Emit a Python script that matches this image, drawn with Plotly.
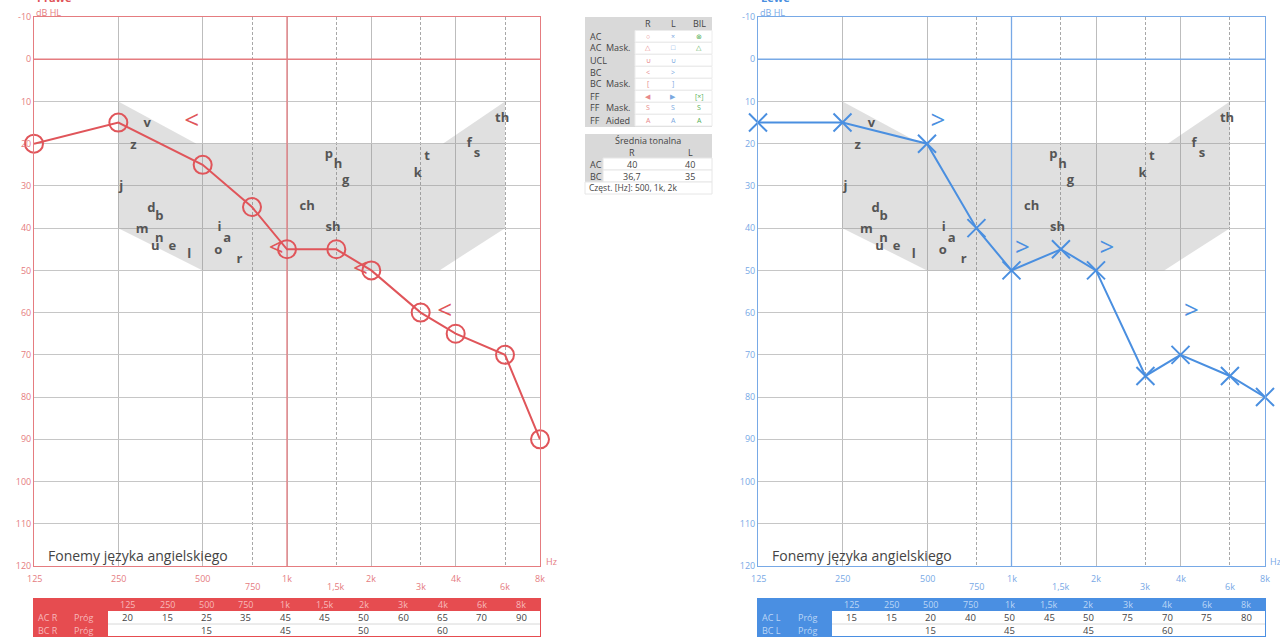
import numpy as np
import plotly.graph_objects as go

W, H = 1280, 640

# ---------------- data ----------------
freqs = [125, 250, 500, 750, 1000, 1500, 2000, 3000, 4000, 6000, 8000]
freq_labels = ["125", "250", "500", "750", "1k", "1,5k", "2k", "3k", "4k", "6k", "8k"]
freq_staggered = [False, False, False, True, False, True, False, True, False, True, False]

ac_right = [20, 15, 25, 35, 45, 45, 50, 60, 65, 70, 90]
ac_left = [15, 15, 20, 40, 50, 45, 50, 75, 70, 75, 80]
bc_freqs = [500, 1000, 2000, 4000]
bc_right = [15, 45, 50, 60]
bc_left = [15, 45, 45, 60]

db_ticks = list(range(-10, 121, 10))

banana_freq = [250, 475, 3600, 6000, 6000, 3500, 500, 250]
banana_db = [10, 20, 20, 10, 40, 50, 50, 40]

phonemes = ["v", "z", "j", "d", "b", "m", "n", "u", "e", "l", "i", "a", "o", "r",
            "ch", "sh", "p", "h", "g", "t", "k", "f", "s", "th"]
phon_freq = [317, 283, 256, 328, 350, 304, 350, 339, 390, 448, 574, 612, 569, 676,
             1180, 1460, 1410, 1520, 1620, 3160, 2930, 4470, 4770, 5860]
phon_db = [15.2, 20.4, 30.3, 35.3, 37.2, 40.3, 42.5, 44.3, 44.3, 46.2, 40.0, 42.4, 45.3, 47.4,
           35.0, 40.0, 22.7, 24.9, 28.7, 23.2, 27.0, 20.0, 22.3, 14.2]

legend_head = ["R", "L", "BIL"]
legend_col_a = ["AC", "AC", "UCL", "BC", "BC", "FF", "FF", "FF"]
legend_col_b = ["", "Mask.", "", "", "Mask.", "", "Mask.", "Aided"]
legend_r = ["○", "△", "∪", "<", "[", "◀", "S", "A"]
legend_l = ["×", "□", "∪", ">", "]", "▶", "S", "A"]
legend_bil = ["⊗", "△", "", "", "", "[×]", "S", "A"]

avg_title = "Średnia tonalna"
avg_labels = ["AC", "BC"]
avg_r = ["40", "36,7"]
avg_l = ["40", "35"]
avg_note = "Częst. [Hz]: 500, 1k, 2k"

# ---------------- styles ----------------
RED = "#e0555a"
RED_L = "#e57c80"
RED_TBL = "#e64c50"
BLUE = "#4a8fe0"
BLUE_L = "#78a9e6"
BLUE_TBL = "#4a8fe2"
GRAY_CELL = "#d9d9d9"
TXT = "#444444"
FONT = "Open Sans"


def px(x):
    return x / W


def py(y):
    return 1 - y / H


fig = go.Figure()
annotations = []
shapes = []


def rect(x0, y0, x1, y1, fill, line=None, width=1):
    shapes.append(dict(type="rect", xref="paper", yref="paper", x0=px(x0), x1=px(x1),
                       y0=py(y1), y1=py(y0), fillcolor=fill,
                       line=dict(color=line or fill, width=width if line else 0),
                       layer="above"))


def hline(x0, x1, y, color):
    shapes.append(dict(type="line", xref="paper", yref="paper", x0=px(x0), x1=px(x1),
                       y0=py(y), y1=py(y), line=dict(color=color, width=1), layer="above"))


def label(x, y, text, anchor="center", size=9, color=TXT, weight="normal"):
    annotations.append(dict(x=px(x), xref="paper", y=py(y), yref="paper", text=text,
                            showarrow=False, xanchor=anchor, yanchor="middle",
                            font=dict(size=size, color=color, family=FONT, weight=weight)))


def add_ear(xa, ya, ac, bc, color, color_l, symbol, bc_text, bc_pos):
    fig.add_trace(go.Scatter(
        x=banana_freq + [banana_freq[0]], y=banana_db + [banana_db[0]],
        xaxis=xa, yaxis=ya, mode="lines", fill="toself",
        fillcolor="rgba(140,140,140,0.27)", line=dict(width=0),
        hoverinfo="skip", showlegend=False))
    # 1 kHz and 0 dB reference lines
    fig.add_trace(go.Scatter(
        x=[1000, 1000], y=[-10, 120], xaxis=xa, yaxis=ya, mode="lines",
        line=dict(color=color_l, width=1.3), hoverinfo="skip", showlegend=False))
    fig.add_trace(go.Scatter(
        x=[freqs[0], freqs[-1]], y=[0, 0], xaxis=xa, yaxis=ya, mode="lines",
        line=dict(color=color_l, width=1.3), hoverinfo="skip", showlegend=False))
    fig.add_trace(go.Scatter(
        x=phon_freq, y=phon_db, text=phonemes, xaxis=xa, yaxis=ya, mode="text",
        textposition="middle center",
        textfont=dict(family=FONT, size=13, color="#555555", weight="bold"),
        hoverinfo="skip", showlegend=False))
    fig.add_trace(go.Scatter(
        x=freqs, y=ac, xaxis=xa, yaxis=ya, mode="lines+markers", cliponaxis=False,
        line=dict(color=color, width=2),
        marker=dict(symbol=symbol, size=18, color=color, line=dict(width=2, color=color)),
        showlegend=False))
    fig.add_trace(go.Scatter(
        x=bc_freqs, y=bc, xaxis=xa, yaxis=ya, mode="markers+text", cliponaxis=False,
        text=[bc_text] * len(bc), textposition=bc_pos,
        marker=dict(size=4, opacity=0),
        textfont=dict(family=FONT, size=26, color=color),
        showlegend=False))


add_ear("x", "y", ac_right, bc_right, RED, RED_L, "circle-open", "<", "middle left")
add_ear("x2", "y2", ac_left, bc_left, BLUE, BLUE_L, "x-thin-open", ">", "middle right")


def xaxis(domain, color_l, anchor):
    return dict(type="log", range=[np.log10(125), np.log10(8000)], domain=domain,
                anchor=anchor, tickmode="array",
                tickvals=[125, 250, 500, 1000, 2000, 4000, 8000],
                showticklabels=False, ticks="", showgrid=True, gridcolor="#bdbdbd",
                gridwidth=1, showline=True, linecolor=color_l, linewidth=1, mirror=True,
                zeroline=False, fixedrange=True, automargin=False,
                minor=dict(tickmode="array", tickvals=[750, 1500, 3000, 6000],
                           showgrid=True, gridcolor="#a8a8a8", griddash="3px,2px",
                           gridwidth=1, ticks=""))


def yaxis(domain, color_l, anchor):
    return dict(range=[120, -10], domain=domain, anchor=anchor, tickmode="array",
                tickvals=db_ticks, ticktext=[str(v) for v in db_ticks], ticks="",
                tickfont=dict(size=9, color=color_l, family=FONT),
                showgrid=True, gridcolor="#c6c6c6", gridwidth=1,
                zeroline=False,
                showline=True, linecolor=color_l, linewidth=1, mirror=True,
                fixedrange=True, automargin=False)


ydom = [py(566), py(17)]
left_dom = [px(34), px(540)]
right_dom = [px(758), px(1265)]

# ---- axis side texts ----
for xref, x0, color_l, color, title in [("x", 34, RED_L, RED, "Prawe"), ("x2", 758, BLUE_L, BLUE, "Lewe")]:
    for f, lab, stag in zip(freqs, freq_labels, freq_staggered):
        annotations.append(dict(x=np.log10(f), xref=xref, y=py(586 if stag else 578), yref="paper",
                                text=lab, showarrow=False, xanchor="center", yanchor="middle",
                                font=dict(size=9, color=color_l, family=FONT)))
    label(x0, 12, "dB HL", "left", 9, color_l)
    label(x0 + 1, -2, title, "left", 11, color, "bold")
    label(x0 + 517, 561, "Hz", "center", 9, color_l)
    label(x0 + 12, 555, "Fonemy języka angielskiego", "left", 14, TXT)

# ---- bottom threshold tables ----
def thr_table(x0, x1, ac, bc, side, fillc, txt_light):
    bc_map = dict(zip(bc_freqs, bc))
    data_x0 = x0 + 75
    cw = (x1 - data_x0) / len(freqs)
    rect(x0, 598, x1, 637, fillc)
    rect(data_x0, 611, x1 - 1, 636, "white")
    hline(data_x0, x1 - 1, 624, "#d8d8d8")
    for i, lab in enumerate(freq_labels):
        cx = data_x0 + cw * (i + 0.5)
        label(cx, 604.5, lab, "center", 9, txt_light)
        label(cx, 617.5, str(ac[i]), "center", 9.5, TXT)
        if freqs[i] in bc_map:
            label(cx, 630.5, str(bc_map[freqs[i]]), "center", 9.5, TXT)
    label(x0 + 3, 617.5, f"AC {side}", "left", 9, txt_light)
    label(x0 + 3, 630.5, f"BC {side}", "left", 9, txt_light)
    label(x0 + 39, 617.5, "Próg", "left", 9, txt_light)
    label(x0 + 39, 630.5, "Próg", "left", 9, txt_light)


thr_table(33, 541, ac_right, bc_right, "R", RED_TBL, "#f7b9bb")
thr_table(757, 1266, ac_left, bc_left, "L", BLUE_TBL, "#bcd6f6")

# ---- legend table ----
rect(585, 17, 712, 127, GRAY_CELL)
col_cx = [648, 673, 699]
sym_colors = ["#e88a8c", "#7aa8e0", "#58b058"]
for j, h in enumerate(legend_head):
    label(col_cx[j], 23.5, h, "center", 9)
for i in range(len(legend_col_a)):
    y0 = 30 + 12 * i
    rect(635, y0 + 0.5, 712, y0 + 12, "white", "#ececec")
    label(588, y0 + 6, legend_col_a[i], "left", 9)
    if legend_col_b[i]:
        label(604, y0 + 6, legend_col_b[i], "left", 9)
    for j, col in enumerate([legend_r, legend_l, legend_bil]):
        if col[i]:
            label(col_cx[j], y0 + 6, col[i], "center", 7, sym_colors[j])

# ---- Średnia tonalna box ----
rect(585, 134, 712, 158, GRAY_CELL)
for i, (lab, r, l) in enumerate(zip(avg_labels, avg_r, avg_l)):
    y0 = 158 + 12 * i
    rect(585, y0, 603, y0 + 12, GRAY_CELL)
    rect(603, y0, 712, y0 + 12, "white", "#e6e6e6")
    label(588, y0 + 6, lab, "left")
    label(632, y0 + 6, r)
    label(690, y0 + 6, l)
rect(585, 182, 712, 194, "white", "#e6e6e6")
label(648, 140, avg_title)
label(632, 152, legend_head[0])
label(690, 152, legend_head[1])
label(587, 188, avg_note, "left", 8.5)

fig.update_layout(
    width=W, height=H, margin=dict(l=0, r=0, t=0, b=0, pad=0, autoexpand=False),
    paper_bgcolor="white", plot_bgcolor="white",
    font=dict(family=FONT),
    showlegend=False,
    xaxis=xaxis(left_dom, RED_L, "y"),
    yaxis=yaxis(ydom, RED_L, "x"),
    xaxis2=xaxis(right_dom, BLUE_L, "y2"),
    yaxis2=yaxis(ydom, BLUE_L, "x2"),
    annotations=annotations,
    shapes=shapes,
)

fig.write_html("out.html")
